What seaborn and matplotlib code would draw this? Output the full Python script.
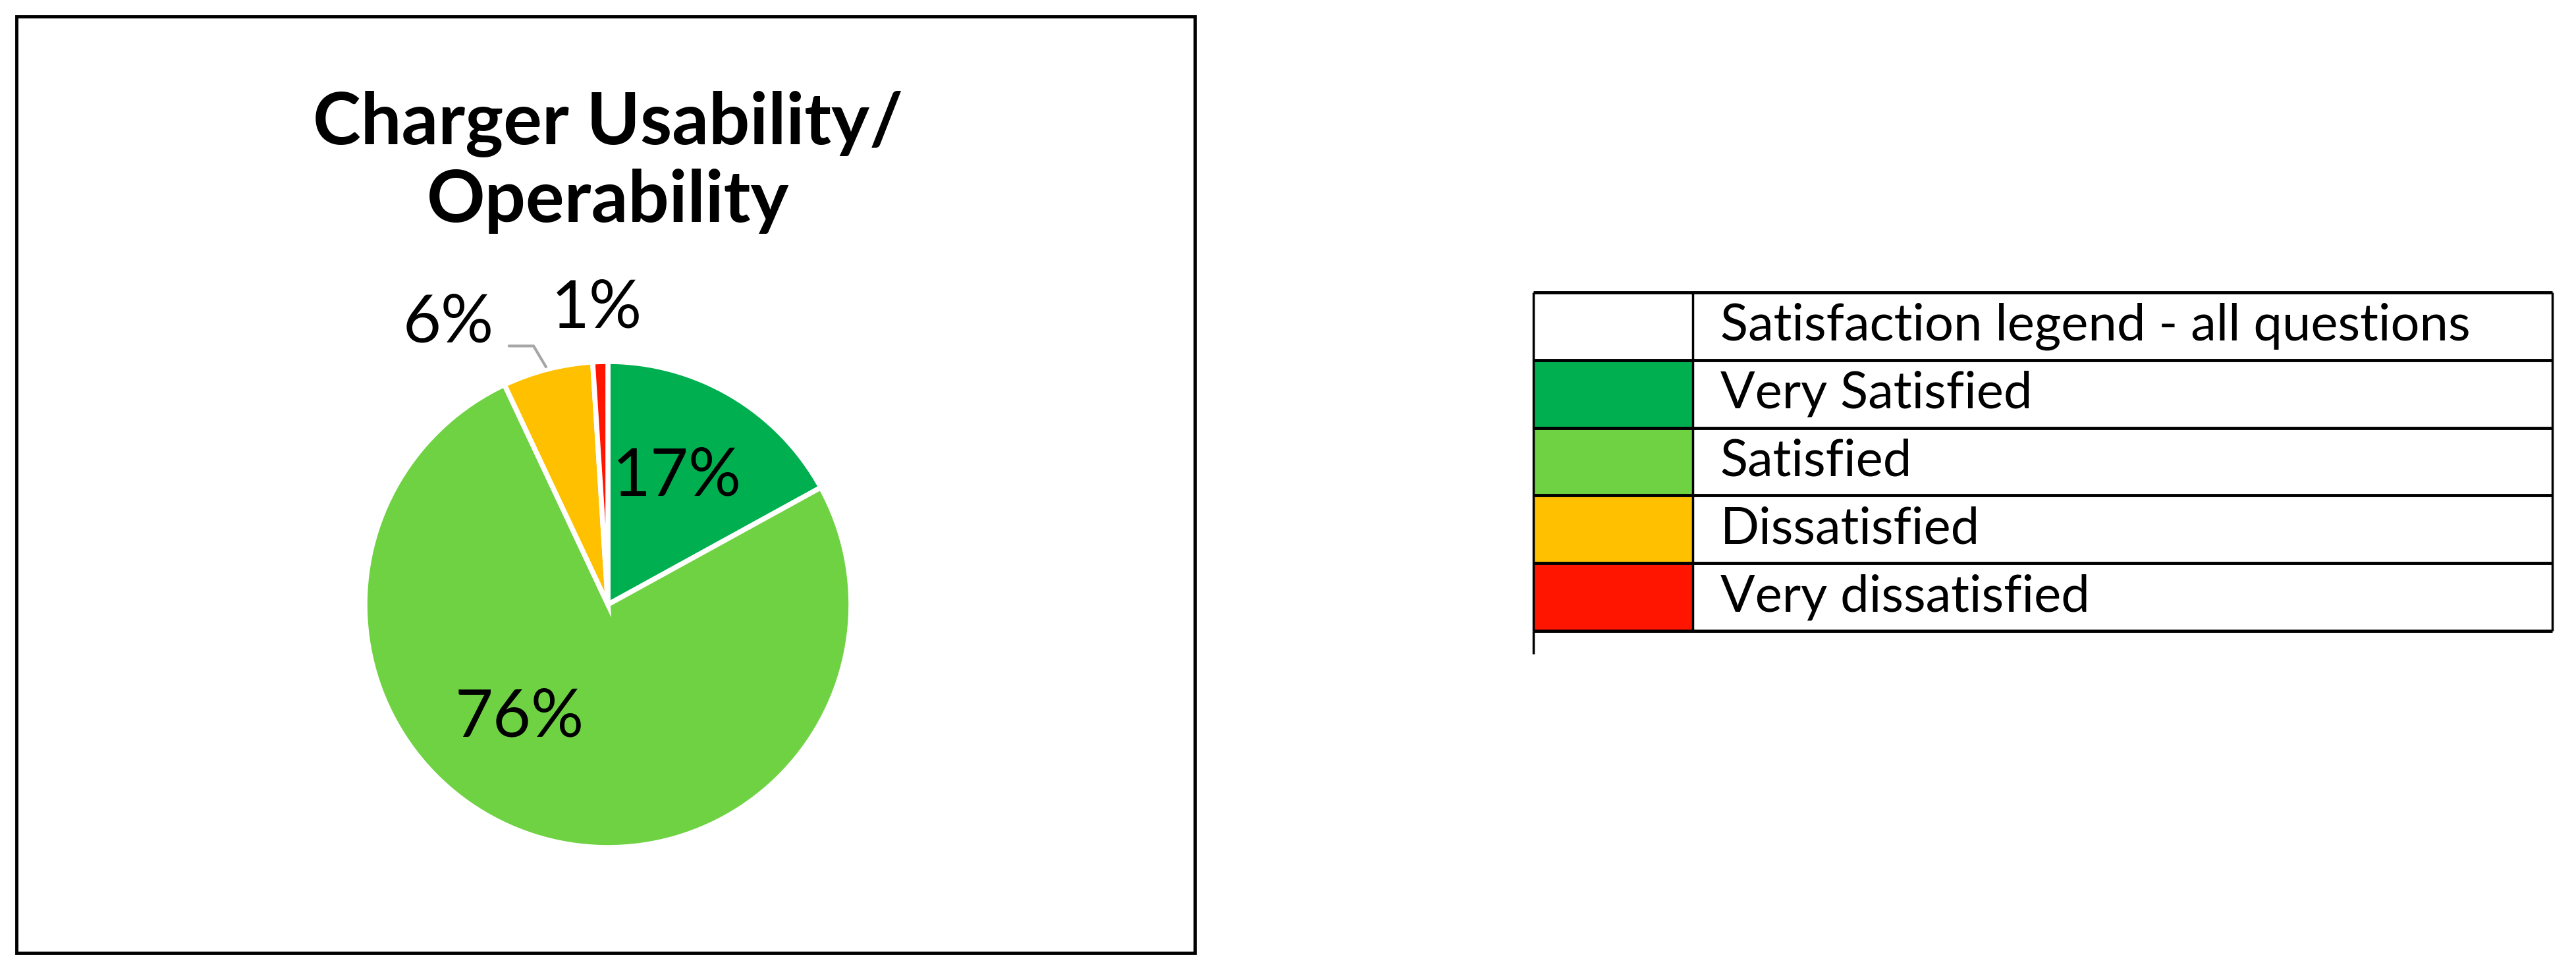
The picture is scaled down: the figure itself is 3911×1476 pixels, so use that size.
"""Charger usability pie chart with satisfaction legend table."""

import numpy as np
import matplotlib
matplotlib.use("Agg")
import matplotlib.pyplot as plt
from matplotlib.patches import Rectangle
import seaborn as sns

# data
categories = ["Very Satisfied", "Satisfied", "Dissatisfied", "Very dissatisfied"]
shares = [17, 76, 6, 1]
colors = ["#00B050", "#6FD243", "#FFC000", "#FF1500"]
title = "Charger Usability/\nOperability"
legend_header = "Satisfaction legend - all questions"

sns.set_theme(style="white")
plt.rcParams["font.family"] = ["Lato", "DejaVu Sans"]
plt.rcParams["text.color"] = "black"

W, H = 3912, 1476
fig = plt.figure(figsize=(W / 100, H / 100), dpi=100)
fig.patch.set_facecolor("white")

# frame around the chart
fig.patches.append(Rectangle((25 / W, 1 - 1447 / H), (1814 - 25) / W, (1447 - 25) / H,
                             transform=fig.transFigure, fill=False,
                             edgecolor="black", linewidth=3.5))

fig.text(923 / W, 0.833, title, ha="center", va="center", fontsize=79,
         fontweight="bold", linespacing=1.2)

# pie
cx, cy, r = 923, 918, 369
ax = fig.add_axes([(cx - r) / W, (H - cy - r) / H, 2 * r / W, 2 * r / H])
wedges, _ = ax.pie(shares, colors=colors, startangle=90, counterclock=False,
                   wedgeprops=dict(edgecolor="white", linewidth=5.5))
ax.set_xlim(-1, 1)
ax.set_ylim(-1, 1)
ax.set_aspect("equal")
ax.axis("off")

# label placement (Excel "best fit" style)
label_pos = [(0.285, 0.525), (-0.365, -0.465), (-0.656, 1.157), (-0.046, 1.217)]
for val, (lx, ly) in zip(shares, label_pos):
    ax.text(lx, ly, f"{val}%", ha="center", va="center", fontsize=72,
            clip_on=False)
ax.plot([-0.407, -0.306, -0.255], [1.064, 1.064, 0.978], color="#A6A6A6",
        linewidth=3, clip_on=False)

# legend table
tl, tr, tt, tb = 2328, 3875, 444, 958
tax = fig.add_axes([tl / W, (H - tb) / H, (tr - tl) / W, (tb - tt) / H])
n = len(categories) + 1
tax.set_xlim(0, tr - tl)
tax.set_ylim(n, 0)
tax.axis("off")
split = 2570 - tl
for i, (cat, col) in enumerate(zip(categories, colors), start=1):
    tax.add_patch(Rectangle((0, i), split, 1, facecolor=col, edgecolor="none"))
labels = [legend_header] + categories
for i, lab in enumerate(labels):
    tax.text(2612 - tl, i + 0.5, lab, ha="left", va="center", fontsize=56)
tax.hlines(np.arange(n + 1), 0, tr - tl, color="black", linewidth=3.5,
           clip_on=False)
tax.vlines([0, split, tr - tl], 0, n, color="black", linewidth=2.5, clip_on=False)
tax.vlines([0], n, n + 0.34, color="black", linewidth=2.5, clip_on=False)

fig.savefig("out.png", dpi=100, facecolor="white")
